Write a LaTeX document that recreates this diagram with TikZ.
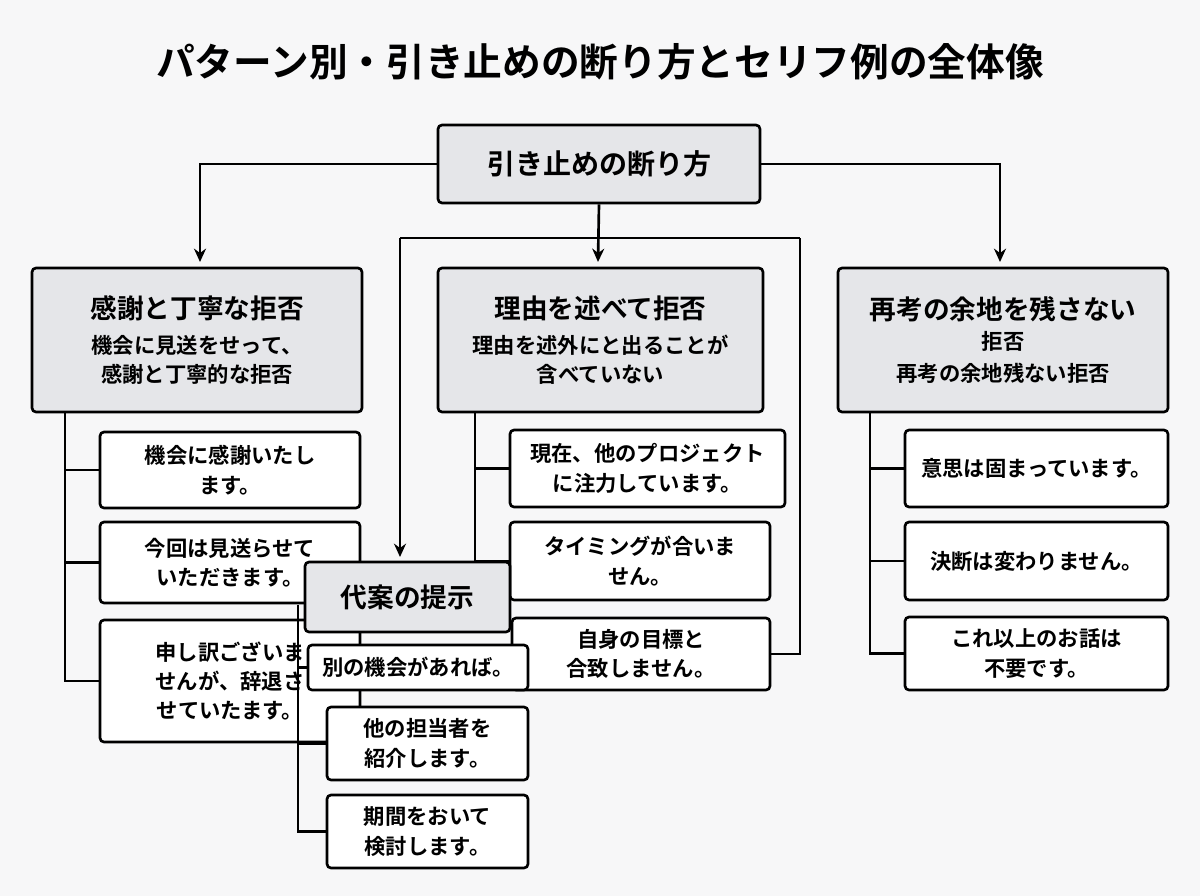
\documentclass[tikz,border=0pt]{standalone}
\usepackage{fontspec}
\setmainfont{Noto Sans CJK JP}[BoldFont={Noto Sans CJK JP Bold}]
\usetikzlibrary{arrows.meta}
\definecolor{bgc}{HTML}{F7F7F8}
\definecolor{headc}{HTML}{E5E6E9}
\tikzset{every picture/.style={line width=2pt}}
\tikzset{
	box/.style={draw=black, rounded corners=3pt, align=center, inner sep=0pt, font=\bfseries\fontsize{16}{22}\selectfont},
	head/.style={box, fill=headc},
	leaf/.style={box, fill=white},
	arr/.style={-{Stealth[length=10pt,width=9pt]}}}
% box from pixel corners
\newcommand\bx[7]{\node[#6, minimum width={(#4-#2)*0.75pt}, minimum height={(#5-#3)*0.75pt}] (#1) at ({(#2+#4)/2},{(#3+#5)/2}) {#7};}
\newcommand\hdsize{\fontsize{20}{30}\selectfont}
\newcommand\lfsize{\fontsize{16}{22}\selectfont}

\begin{document}
\begin{tikzpicture}[x=0.75pt,y=0.75pt,yscale=-1,xscale=1]
	\fill[bgc] (0,0) rectangle (1200,896);
	\useasboundingbox (0,0) rectangle (1200,896);

	% Title
	\node[font=\bfseries\fontsize{29}{34}\selectfont] (title) at (600,62) {パターン別・引き止めの断り方とセリフ例の全体像};

	% Root and patterns
	\bx{root}{438}{125}{760}{203}{head}{\fontsize{21}{26}\selectfont 引き止めの断り方}
	\bx{A}{32}{268}{362}{412}{head}{\hdsize 感謝と丁寧な拒否\\[4pt]\lfsize 機会に見送をせって、\\感謝と丁寧的な拒否}
	\bx{B}{438}{268}{763}{412}{head}{\hdsize 理由を述べて拒否\\[4pt]\lfsize 理由を述外にと出ることが\\含べていない}
	\bx{C}{838}{268}{1168}{412}{head}{\hdsize 再考の余地を残さない\\拒否\\[2pt]\lfsize 再考の余地残ない拒否}

	\draw[arr] (root.west) -| (200,262);
	\draw[arr] (root.east) -| (1000,262);
	\draw[arr] (root.south) -- (598,262);
	\coordinate (hL) at (400,238);
	\coordinate (hR) at (800,238);
	\draw (hL) -- (hR);

	% Left leaves
	\bx{a1}{100}{432}{360}{508}{leaf}{機会に感謝いたし\\ます。}
	\bx{a2}{100}{522}{360}{603}{leaf}{今回は見送らせて\\いただきます。}
	\bx{a3}{100}{620}{360}{742}{leaf}{申し訳ございま\\せんが、辞退さ\\せていたます。}
	\coordinate (aL) at (65,412);
	\draw (aL) |- (a3.west);
	\draw (aL |- a1.west) -- (a1.west);
	\draw (aL |- a2.west) -- (a2.west);

	% Middle leaves
	\bx{b1}{510}{430}{785}{507}{leaf}{現在、他のプロジェクト\\に注力しています。}
	\bx{b2}{510}{522}{770}{600}{leaf}{タイミングが合いま\\せん。}
	\coordinate (bL) at (475,412);
	\draw (bL) |- (b2.west);
	\draw (bL |- b1.west) -- (b1.west);
	\bx{b3}{512}{618}{770}{690}{leaf}{自身の目標と\\合致しません。}
	\draw (hR) |- (b3.east);

	% Right leaves
	\bx{c1}{905}{430}{1168}{507}{leaf}{意思は固まっています。}
	\bx{c2}{905}{522}{1168}{600}{leaf}{決断は変わりません。}
	\bx{c3}{905}{617}{1168}{690}{leaf}{これ以上のお話は\\不要です。}
	\coordinate (cL) at (870,412);
	\draw (cL) |- (c3.west);
	\draw (cL |- c1.west) -- (c1.west);
	\draw (cL |- c2.west) -- (c2.west);

	% Alternative proposal
	\draw[arr] (hL) -- (400,557);
	\coordinate (dL) at (298,605);
	\draw (dL) |- (327,832);
	\bx{alt}{305}{562}{510}{632}{head}{\fontsize{20}{26}\selectfont 代案の提示}
	\bx{d1}{308}{645}{528}{690}{leaf}{別の機会があれば。}
	\bx{d2}{327}{707}{528}{780}{leaf}{他の担当者を\\紹介します。}
	\bx{d3}{327}{795}{528}{868}{leaf}{期間をおいて\\検討します。}
	\draw (dL |- d1.west) -- (d1.west);
	\draw (dL |- d2.west) -- (d2.west);
	\draw (dL |- d3.west) -- (d3.west);
\end{tikzpicture}
\end{document}
